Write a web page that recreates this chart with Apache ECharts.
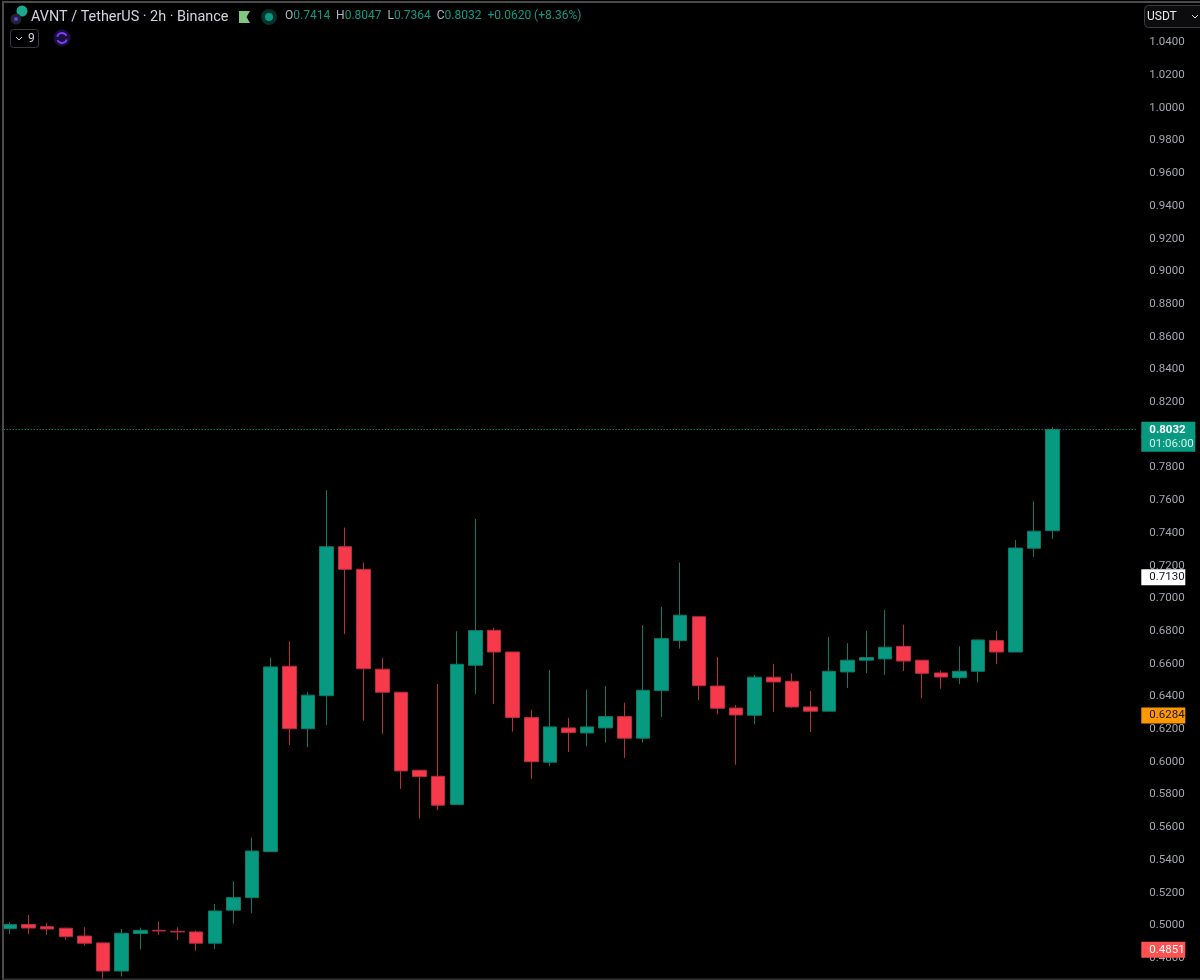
<!DOCTYPE html>
<html>
<head>
<meta charset="utf-8">
<style>html,body{margin:0;padding:0;background:#000;width:1200px;height:980px;overflow:hidden}#c{width:1200px;height:1000px}</style>
<script src="https://cdn.jsdelivr.net/npm/echarts@6/dist/echarts.min.js"></script>
</head>
<body>
<div id="c"></div>
<script>
const opens  = [.4980,.5005,.4992,.4983,.4935,.4893,.4721,.4950,.4970,.4964,.4960,.4891,.5093,.5170,.5451,.6585,.6203,.6405,.7316,.7178,.6567,.6426,.5949,.5912,.5739,.6591,.6805,.6672,.6271,.5998,.6208,.6177,.6208,.6277,.6145,.6436,.6742,.6888,.6464,.6329,.6285,.6518,.6493,.6336,.6310,.6550,.6622,.6630,.6707,.6622,.6544,.6515,.6554,.6742,.6672,.7307,.7414];
const closes = [.5005,.4984,.4978,.4931,.4891,.4721,.4952,.4970,.4966,.4960,.4891,.5088,.5170,.5455,.6581,.6203,.6408,.7316,.7178,.6570,.6426,.5945,.5910,.5735,.6597,.6803,.6672,.6271,.6001,.6214,.6179,.6214,.6277,.6145,.6438,.6754,.6897,.6466,.6328,.6287,.6518,.6489,.6336,.6310,.6554,.6622,.6638,.6701,.6617,.6542,.6519,.6554,.6746,.6672,.7308,.7411,.8032];
const lows   = [.4946,.4946,.4942,.4913,.4876,.4671,.4687,.4852,.4942,.4909,.4845,.4856,.5011,.5074,.5451,.6104,.6091,.6226,.6782,.6252,.6171,.5835,.5653,.5706,.5739,.6415,.6354,.6185,.5896,.5975,.6061,.6096,.6118,.6024,.6118,.6275,.6693,.6377,.6291,.5983,.6230,.6305,.6330,.6183,.6310,.6452,.6544,.6532,.6556,.6391,.6448,.6475,.6487,.6599,.6672,.7253,.7364];
const highs  = [.5019,.5064,.5015,.4986,.4989,.4893,.4978,.4986,.5023,.4989,.4968,.5131,.5270,.5537,.6638,.6738,.6428,.7663,.7433,.7219,.6636,.6426,.5953,.6477,.6799,.7486,.6821,.6672,.6318,.6562,.6269,.6440,.6464,.6362,.6837,.6948,.7219,.6888,.6642,.6348,.6532,.6599,.6542,.6434,.6766,.6726,.6801,.6929,.6839,.6622,.6560,.6707,.6750,.6801,.7357,.7594,.8047];
const categories = opens.map((_, i) => String(i + 1));
const tickValues = [1.04,1.02,1.00,.98,.96,.94,.92,.90,.88,.86,.84,.82,.80,.78,.76,.74,.72,.70,.68,.66,.64,.62,.60,.58,.56,.54,.52,.50,.48];
const lastPrice = 0.8032;
const timerAnchor = 0.79465;
const priceTags = [
  {value: 0.7130, text: '0.7130', bg: '#ffffff', fg: '#131722'},
  {value: 0.6284, text: '0.6284', bg: '#ff9800', fg: '#131722'},
  {value: 0.4851, text: '0.4851', bg: '#ff5252', fg: '#ffffff'}
];
const titleText = 'AVNT / TetherUS · 2h · Binance';
const ohlcLabels = ['O','H','L','C'];
const ohlcValues = ['0.7414','0.8047','0.7364','0.8032'];
const changeText = '+0.0620 (+8.36%)';

const GREEN = '#089981', RED = '#f7394c', FONT = 'Roboto, sans-serif';
const NONE = {color: 'rgba(0,0,0,0)', width: 1, type: 'solid', opacity: 1};
const tagLabel = (text, bg, fg, w, extra) => Object.assign({
  show: true, position: 'end', distance: 5, formatter: text, fontFamily: FONT, fontSize: 11.5,
  color: fg, backgroundColor: bg, padding: [2, 0, 2, 8], width: w, height: 12, lineHeight: 12, align: 'left', verticalAlign: 'middle'
}, extra || {});

const ohlcRich = {
  o: {color: '#b2b5be', fontFamily: FONT, fontSize: 12, fontWeight: 'normal'},
  v: {color: '#0a9c84', fontFamily: FONT, fontSize: 12, fontWeight: 'normal'}
};
const ohlcStr = ohlcLabels.map((l, i) => `{o|${l}}{v|${ohlcValues[i]}}`).join('{v|  }') + `{v|  ${changeText}}`;

const chart = echarts.init(document.getElementById('c'));
chart.setOption({
  backgroundColor: '#000',
  animation: false,
  title: {show: true, text: ohlcStr, left: 285, top: 9, padding: 0, textStyle: {rich: ohlcRich, fontSize: 12, fontWeight: 'normal', lineHeight: 14}},
  grid: {left: 0.7, top: 9.8, width: 1135.6, height: 981, containLabel: false},
  xAxis: {type: 'category', data: categories, max: 60, axisLine: {show: false}, axisTick: {show: false}, axisLabel: {show: false}, splitLine: {show: false}},
  yAxis: {
    type: 'value', position: 'right', min: 0.46, max: 1.06, interval: 0.02, scale: true,
    axisLine: {show: false}, axisTick: {show: false}, splitLine: {show: false},
    axisLabel: {customValues: tickValues, margin: 13, padding: [2, 0, 0, 0], color: '#a3a6af', fontFamily: FONT, fontSize: 11.5, formatter: v => v.toFixed(4)}
  },
  series: [{
    type: 'candlestick', barWidth: 14,
    data: opens.map((o, i) => [o, closes[i], lows[i], highs[i]]),
    itemStyle: {color: GREEN, color0: RED, borderColor: '#0b7a67', borderColor0: '#b52f3e', borderWidth: 1},
    markLine: {
      silent: true, symbol: 'none', animation: false, precision: 5,
      data: [
        {yAxis: lastPrice, lineStyle: {color: '#0fb093', type: [1, 2], width: 1, opacity: 1},
         label: tagLabel(lastPrice.toFixed(4), GREEN, '#ffffff', 46, {fontWeight: 'bold'})},
        {yAxis: timerAnchor, lineStyle: NONE,
         label: tagLabel('01:06:00', GREEN, '#d8f0ea', 46)}
      ].concat(priceTags.map(t => ({yAxis: t.value, lineStyle: NONE, label: tagLabel(t.text, t.bg, t.fg, 36)})))
    }
  }],
  graphic: [
    {type: 'rect', z: 100, shape: {x: 0, y: 0, width: 2, height: 980}, style: {fill: '#000'}},
    {type: 'rect', z: 100, shape: {x: 2, y: 2, width: 2, height: 978}, style: {fill: '#4a4a4a'}},
    {type: 'rect', z: 100, shape: {x: 2, y: 1, width: 1198, height: 2}, style: {fill: '#4a4a4a'}},
    {type: 'rect', z: 100, shape: {x: 2, y: 978.5, width: 1198, height: 1.5}, style: {fill: '#333'}},
    {type: 'circle', z: 100, shape: {cx: 22, cy: 11, r: 5.5}, style: {fill: '#1aa98f'}},
    {type: 'circle', z: 101, shape: {cx: 16, cy: 19, r: 5.5}, style: {fill: '#1f2430'}},
    {type: 'circle', z: 102, shape: {cx: 16, cy: 19, r: 2}, style: {fill: '#6a3df0'}},
    {type: 'text', z: 100, x: 31, y: 17, style: {text: titleText, fill: '#d1d4dc', font: '14.4px ' + FONT, textVerticalAlign: 'middle'}},
    {type: 'polygon', z: 100, shape: {points: [[239,11],[250,11],[246.5,17],[250,23],[239,23]]}, style: {fill: '#81c784'}},
    {type: 'circle', z: 100, shape: {cx: 269, cy: 17, r: 8}, style: {fill: '#06302a'}},
    {type: 'circle', z: 101, shape: {cx: 269, cy: 17, r: 4}, style: {fill: '#089981'}},
    {type: 'rect', z: 100, shape: {x: 10.5, y: 29.5, width: 28, height: 18, r: 3}, style: {fill: '#000', stroke: '#363a45'}},
    {type: 'polyline', z: 101, shape: {points: [[16,37],[19,40],[22,37]]}, style: {fill: 'none', stroke: '#d1d4dc', lineWidth: 1}},
    {type: 'text', z: 101, x: 28, y: 38.5, style: {text: '9', fill: '#d1d4dc', font: '12px ' + FONT, textVerticalAlign: 'middle'}},
    {type: 'circle', z: 100, shape: {cx: 62, cy: 38, r: 8.5}, style: {fill: '#1a0f3d'}},
    {type: 'arc', z: 101, shape: {cx: 62, cy: 38, r: 5, startAngle: 3.4, endAngle: 5.8}, style: {fill: 'none', stroke: '#7b3ff2', lineWidth: 2}},
    {type: 'arc', z: 101, shape: {cx: 62, cy: 38, r: 5, startAngle: 0.3, endAngle: 2.7}, style: {fill: 'none', stroke: '#7b3ff2', lineWidth: 2}},
    {type: 'rect', z: 100, shape: {x: 1144.5, y: 5.5, width: 60, height: 22, r: 4}, style: {fill: '#0c0c0c', stroke: '#363a45'}},
    {type: 'text', z: 101, x: 1147, y: 16.5, style: {text: 'USDT', fill: '#e6e8ee', font: '12px ' + FONT, textVerticalAlign: 'middle'}},
    {type: 'polyline', z: 101, shape: {points: [[1192,15],[1195,18],[1198,15]]}, style: {fill: 'none', stroke: '#d1d4dc', lineWidth: 1}}
  ]
});
</script>
</body>
</html>
